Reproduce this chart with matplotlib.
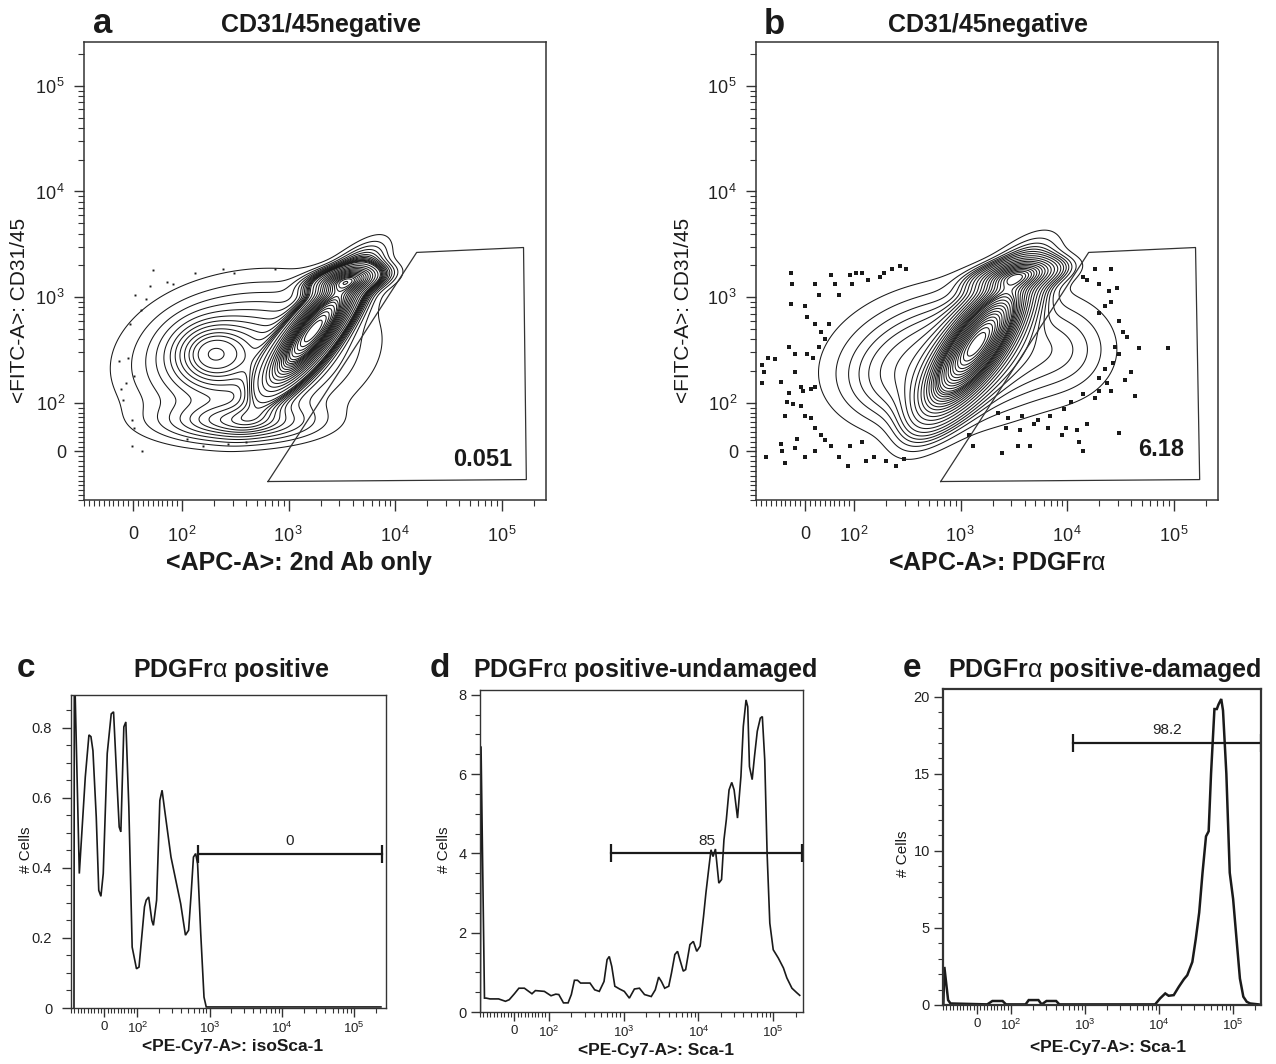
import numpy as np
import matplotlib.pyplot as plt
from matplotlib.ticker import FixedLocator, NullFormatter

plt.rcParams['font.family'] = ['Liberation Sans', 'DejaVu Sans']
plt.rcParams['mathtext.fontset'] = 'custom'
plt.rcParams['mathtext.rm'] = 'Liberation Sans'
plt.rcParams['mathtext.it'] = 'Liberation Sans'
plt.rcParams['mathtext.bf'] = 'Liberation Sans:bold'

INK = '#1a1a1a'
W, H = 1276, 1064
LINTHRESH, LINSCALE = 100.0, 0.414
LIN_ADJ = LINSCALE / (1 - 1 / 10)   # decades used by 0..100 on the biex-like axis

# ---------------- data ----------------
# a / b : 2D populations, density as a few oriented blobs
# (centre x, centre y in fluorescence units, sd along / across in decades, angle deg, weight)
a_cx = [1740, 3500, 182, 400, 347]
a_cy = [490, 1450, 295, 290, 60]
a_sa = [0.38, 0.20, 0.24, 0.65, 0.45]
a_sb = [0.11, 0.07, 0.20, 0.40, 0.12]
a_ang = [52, 10, 0, 10, 0]
a_w = [1.0, 0.4, 0.065, 0.10, 0.08]

b_cx = [1445, 3467, 977, 10965, 275]
b_cy = [371, 1620, 290, 309, 138]
b_sa = [0.45, 0.25, 0.65, 0.30, 0.40]
b_sb = [0.15, 0.08, 0.38, 0.30, 0.28]
b_ang = [55, 10, 5, 0, 0]
b_w = [1.0, 0.3, 0.12, 0.03, 0.04]

# single events outside the outer contour
a_dot_x = [-28, -25, -10, 1, -21, -3, 19, 5, 16, 27, 34, 40, 70, 81, 131, 243, 306, 745,
           -3, 3, 112, 158, 272, 401, -14, -6]
a_dot_y = [248, 136, 268, 179, 106, 11, 0, 1050, 760, 968, 1282, 1811, 1390, 1334, 1698,
           1841, 1698, 1841, 64, 49, 26, 11, 15, 19, 153, 552]

b_dot_x = [-29, -27, 20, 29, 53, 62, 70, 91, 95, 104, 118, 135, 175, 191, 228, 271, 309,
           -29, 0, 4, 20, 33, 49, 41, 29, 16, 4, -33, -21,
           -87, -83, -75, -62, -50, -87, -21, -8, -4, 12, 20, -33, -37, -41, -25, -8, 0, 12, 20, 33,
           -79, -50, -46, -41, -17, -21, 0, 20, 41, 53, 70, 91, 118, 129, 153, 200, 248, 296, 87,
           14000, 15276, 18197, 19860, 25823, 29444, 24717, 22646, 19860, 25823,
           30761, 33573, 36644, 28184, 30761, 26977, 22646, 19860, 23659, 25823,
           19860, 18197, 14000, 10765, 9419, 6934, 5333, 3758, 2767, 2223,
           2649, 3597, 4887, 6637, 9840, 12274, 15276, 9016, 12823, 14000,
           4477, 3443, 2427, 1312, 1202, 47643, 88105, 43652, 30761, 39994, 35075]
b_dot_y = [1698, 1334, 1334, 1050, 1629, 1334, 1050, 1629, 1334, 1698, 1698, 1445, 1567, 1698, 1841, 1991, 1841,
           857, 824, 647, 552, 470, 552, 400, 341, 268, 290, 341, 290,
           228, 195, 268, 258, 159, 153, 195, 141, 130, 136, 141, 125, 102, 72, 98, 94, 72, 68, 49, 34,
           -12, 15, 0, -23, 26, 7, -12, 0, 23, 11, -12, 11, 19, -19, -12, -19, -30, -15, -30,
           1567, 1445, 1841, 1334, 1841, 1230, 1135, 824, 702, 893,
           598, 470, 417, 341, 290, 238, 211, 172, 153, 130,
           130, 111, 120, 102, 87, 72, 64, 72, 68, 79,
           49, 45, 57, 49, 49, 45, 57, 34, 19, 0,
           11, 11, -4, 11, 34, 327, 327, 115, 38, 195, 166]

gate_a_x = [640, 15900, 160000, 170000]
gate_a_y = [-62, 2650, 2950, -58]
gate_b_x = [650, 15900, 160000, 175000]
gate_b_y = [-62, 2650, 2950, -58]

# c / d / e : Sca-1 histograms
c_x = [-91, -90, -75, -57, -46, -40, -34, -24, -16.5, -10, -3, 9, 21, 28, 38, 45, 50, 59, 65, 74,
       84, 97, 105, 125, 132, 143, 158, 166, 184, 204, 219, 238, 291, 339, 396, 461, 510, 553, 595, 638,
       679, 751, 833, 894, 234000]
c_y = [0, 1.0, 0.384, 0.66, 0.78, 0.775, 0.735, 0.545, 0.336, 0.319, 0.384, 0.727, 0.84, 0.846, 0.65,
       0.517, 0.503, 0.803, 0.817, 0.574, 0.174, 0.112, 0.117, 0.289, 0.308, 0.317, 0.25, 0.236, 0.308,
       0.593, 0.622, 0.565, 0.431, 0.365, 0.298, 0.208, 0.222, 0.327, 0.431, 0.441, 0.412, 0.212, 0.031,
       0.003, 0.003]

d_x = [-99, -97, -87, -82, -71, -46, -26, -15, 0, 13, 29, 51, 61, 87, 107, 124, 136, 157, 181, 200,
       220, 242, 266, 355, 410, 473, 547, 601, 643, 694, 763, 883, 1021, 1193, 1394, 1628, 1902, 2340,
       2650, 2940, 3200, 3540, 4010, 4360, 4840, 5260, 5650, 6270, 6750, 7700, 8550, 9500, 10540, 11700,
       12590, 13690, 14730, 15680, 16880, 18740, 20370, 21930, 23600, 25660, 27900, 30000, 33300, 37000,
       39800, 43300, 45600, 48100, 52300, 56200, 61200, 67200, 71500, 77000, 82800, 90000, 100000,
       117000, 136900, 152000, 177800, 208000, 226000]
d_y = [0, 6.7, 0.35, 0.35, 0.33, 0.33, 0.27, 0.31, 0.46, 0.6, 0.6, 0.46, 0.54, 0.52, 0.41, 0.45, 0.44,
       0.23, 0.23, 0.44, 0.8, 0.8, 0.73, 0.73, 0.56, 0.52, 0.77, 1.32, 1.4, 1.15, 0.65, 0.58, 0.52, 0.35,
       0.58, 0.6, 0.44, 0.39, 0.56, 0.88, 0.77, 0.6, 0.65, 0.98, 1.45, 1.53, 1.32, 1.03, 1.07, 1.7, 1.78,
       1.53, 1.66, 2.41, 3.0, 3.59, 4.09, 3.92, 4.11, 3.25, 3.34, 4.34, 4.85, 5.6, 5.79, 5.6, 4.89, 5.94,
       7.2, 7.87, 7.7, 6.19, 5.86, 6.45, 7.08, 7.41, 7.45, 6.36, 4.0, 2.24, 1.57, 1.36, 1.11, 0.86, 0.6,
       0.48, 0.42]

e_x = [-99, -96, -90, -85, -78, 30, 45, 75, 85, 157, 173, 234, 259, 301, 406, 449, 8830, 10320, 12100,
       13440, 15750, 18450, 21600, 24000, 28100, 31300, 34800, 38600, 43000, 46700, 50300, 55900, 60200,
       63500, 69100, 73000, 81000, 90000, 100000, 111100, 123500, 137300, 152600, 169600, 220700]
e_y = [0, 2.47, 1.29, 0.32, 0.1, 0.04, 0.26, 0.26, 0.04, 0.04, 0.32, 0.32, 0.04, 0.26, 0.26, 0.04, 0.04,
       0.43, 0.75, 0.6, 0.64, 1.18, 1.67, 1.93, 2.79, 4.29, 6.0, 8.58, 10.94, 11.27, 15.0, 19.2, 19.2,
       19.5, 19.85, 19.1, 15.0, 8.58, 6.87, 4.29, 1.72, 0.54, 0.21, 0.1, 0.04]

hist_gate = [680, 240000]
gate_levels = {'c': 0.44, 'd': 4.0, 'e': 17.0}
gate_pcts = {'c': '0', 'd': '85', 'e': '98.2'}

MAJOR = [0, 1e2, 1e3, 1e4, 1e5]
MINOR = (list(range(-90, 0, 10)) + list(range(10, 100, 10))
         + [k * 10 ** p for p in (2, 3, 4, 5) for k in range(2, 10)])


def to_dec(v):
    v = np.asarray(v, float)
    a = np.abs(v)
    return np.where(a <= LINTHRESH, v / LINTHRESH * LIN_ADJ,
                    np.sign(v) * (LIN_ADJ + np.log10(np.maximum(a, LINTHRESH) / LINTHRESH)))


def from_dec(t):
    a = np.abs(t)
    return np.where(a <= LIN_ADJ, t / LIN_ADJ * LINTHRESH,
                    np.sign(t) * LINTHRESH * 10 ** (np.maximum(a, LIN_ADJ) - LIN_ADJ))


def density(cx, cy, sa, sb, ang, w):
    t = np.linspace(-1.2, 3.9, 460)
    tx, ty = np.meshgrid(t, t)
    z = np.zeros_like(tx)
    for x0, y0, s1, s2, an, wt in zip(cx, cy, sa, sb, ang, w):
        dx, dy = tx - to_dec(x0), ty - to_dec(y0)
        c, s = np.cos(np.radians(an)), np.sin(np.radians(an))
        u = dx * c + dy * s
        v = -dx * s + dy * c
        z += wt * np.exp(-0.5 * (u / s1) ** 2 - 0.5 * (v / s2) ** 2)
    return from_dec(tx), from_dec(ty), z


def prob_levels(z, fracs):
    zs = np.sort(z.ravel())[::-1]
    cum = np.cumsum(zs) / zs.sum()
    return np.unique(zs[np.searchsorted(cum, fracs)])


fig = plt.figure(figsize=(W / 100, H / 100), dpi=100)


def px_axes(l, t, r, b):
    return fig.add_axes([l / W, 1 - b / H, (r - l) / W, (b - t) / H])


def ftext(x, y, s, **kw):
    fig.text(x / W, 1 - y / H, s, color=INK, **kw)


def biex_ticks(axis, hi, fs, spaced):
    sp = r'\,' if spaced else ''
    labels = ['0'] + [r'$10^{%s%d}$' % (sp, p) for p in (2, 3, 4, 5)]
    axis.set_major_locator(FixedLocator(MAJOR))
    axis.set_ticklabels(labels, fontsize=fs, color='#222')
    axis.set_minor_locator(FixedLocator([m for m in MINOR if m < hi] + [-100]))
    axis.set_minor_formatter(NullFormatter())


# ---------------- a, b ----------------
def flow_panel(box, comps, dx, dy, dot_kw, gx, gy, pct, pct_y):
    ax = px_axes(*box)
    ax.set_xscale('symlog', linthresh=LINTHRESH, linscale=LINSCALE)
    ax.set_yscale('symlog', linthresh=LINTHRESH, linscale=LINSCALE)
    X, Y, Z = density(*comps)
    ax.contour(X, Y, Z, levels=prob_levels(Z, np.arange(0.03, 0.975, 0.03)),
               colors=INK, linewidths=0.75)
    ax.plot(dx, dy, ls='none', color=INK, **dot_kw)
    ax.plot(gx + gx[:1], gy + gy[:1], color='#333', lw=0.9)
    ax.text(125000, pct_y, pct, ha='right', va='center', fontsize=17, weight='bold', color=INK)
    ax.set_xlim(-100, 2.6e5)
    ax.set_ylim(-100, 2.6e5)
    biex_ticks(ax.xaxis, 2.6e5, 13, True)
    biex_ticks(ax.yaxis, 2.6e5, 13, True)
    ax.tick_params(axis='x', which='major', length=8, width=1.0, pad=11, color='#333')
    ax.tick_params(axis='y', which='major', length=7, width=1.0, pad=6, color='#333')
    ax.tick_params(which='minor', length=4, width=0.8, color='#333')
    for sp in ax.spines.values():
        sp.set_linewidth(1.1)
        sp.set_color('#333')
    return ax


flow_panel((84, 42, 546, 500), (a_cx, a_cy, a_sa, a_sb, a_ang, a_w), a_dot_x, a_dot_y,
           dict(marker='s', ms=1.4, mew=0), gate_a_x, gate_a_y, '0.051', -16)
flow_panel((756, 42, 1218, 500), (b_cx, b_cy, b_sa, b_sb, b_ang, b_w), b_dot_x, b_dot_y,
           dict(marker='s', ms=3.0, mew=0), gate_b_x, gate_b_y, '6.18', 4)

ftext(93, 33, 'a', fontsize=25, weight='bold')
ftext(764, 34, 'b', fontsize=25, weight='bold')
ftext(321, 32, 'CD31/45negative', fontsize=18, weight='bold', ha='center')
ftext(988, 32, 'CD31/45negative', fontsize=18, weight='bold', ha='center')
ftext(299, 570, '<APC-A>: 2nd Ab only', fontsize=18, weight='bold', ha='center')
ftext(997, 570, r'<APC-A>: PDGFr$\alpha$', fontsize=18, weight='bold', ha='center')
ftext(20, 310, '<FITC-A>: CD31/45', fontsize=15, rotation=90, ha='center', va='center')
ftext(683, 310, '<FITC-A>: CD31/45', fontsize=15, rotation=90, ha='center', va='center')


# ---------------- c, d, e ----------------
def hist_panel(box, key, xs, ys, xhi, ytop, yticks, ylabels, ystep, lw, spine_lw, ypad):
    ax = px_axes(*box)
    ax.set_xscale('symlog', linthresh=LINTHRESH, linscale=LINSCALE)
    ax.plot(xs, ys, color=INK, lw=lw, solid_joinstyle='miter')
    g = gate_levels[key]
    ax.plot(hist_gate, [g, g], color=INK, lw=1.6, marker='|', ms=13, mew=1.6)
    mid = from_dec((to_dec(hist_gate[0]) + to_dec(hist_gate[1])) / 2)
    ax.annotate(gate_pcts[key], (mid, g), xytext=(0, 4), textcoords='offset points',
                ha='center', va='bottom', fontsize=11, color='#222')
    ax.set_xlim(-100, xhi)
    ax.set_ylim(0, ytop)
    biex_ticks(ax.xaxis, xhi, 9.5, False)
    ax.set_yticks(yticks)
    ax.set_yticklabels(ylabels, fontsize=10.5, color='#222')
    ax.yaxis.set_minor_locator(FixedLocator(np.arange(0, ytop, ystep)))
    ax.tick_params(which='major', length=6.5, width=1.0, color='#333')
    ax.tick_params(axis='x', which='major', pad=3)
    ax.tick_params(axis='y', which='major', pad=ypad)
    ax.tick_params(which='minor', length=3.5, width=0.8, color='#333')
    for sp in ax.spines.values():
        sp.set_linewidth(spine_lw)
        sp.set_color('#333')
    return ax


hist_panel((71, 695, 386, 1008), 'c', c_x, c_y, 2.75e5, 0.894,
           [0, 0.2, 0.4, 0.6, 0.8], ['0', '0.2', '0.4', '0.6', '0.8'], 0.05, 1.2, 1.0, 7)
hist_panel((480, 690, 803, 1012), 'd', d_x, d_y, 2.5e5, 8.12,
           [0, 2, 4, 6, 8], ['0', '2', '4', '6', '8'], 0.5, 1.2, 1.0, 3)
hist_panel((943, 689, 1261, 1005), 'e', e_x, e_y, 2.38e5, 20.5,
           [0, 5, 10, 15, 20], ['0', '5', '10', '15', '20'], 1, 1.8, 1.6, 3)

ftext(17, 677, 'c', fontsize=24, weight='bold')
ftext(430, 677, 'd', fontsize=24, weight='bold')
ftext(903, 677, 'e', fontsize=24, weight='bold')
ftext(231, 677, r'PDGFr$\alpha$ positive', fontsize=18, weight='bold', ha='center')
ftext(645, 677, r'PDGFr$\alpha$ positive-undamaged', fontsize=18, weight='bold', ha='center')
ftext(1105, 677, r'PDGFr$\alpha$ positive-damaged', fontsize=18, weight='bold', ha='center')
ftext(233, 1051, '<PE-Cy7-A>: isoSca-1', fontsize=12.5, weight='bold', ha='center')
ftext(656, 1055, '<PE-Cy7-A>: Sca-1', fontsize=12.5, weight='bold', ha='center')
ftext(1108, 1052, '<PE-Cy7-A>: Sca-1', fontsize=12.5, weight='bold', ha='center')
for x, y in [(26, 850), (444, 850), (903, 854)]:
    ftext(x, y, '# Cells', fontsize=11, rotation=90, ha='center', va='center')

fig.savefig('out.png', dpi=100)
